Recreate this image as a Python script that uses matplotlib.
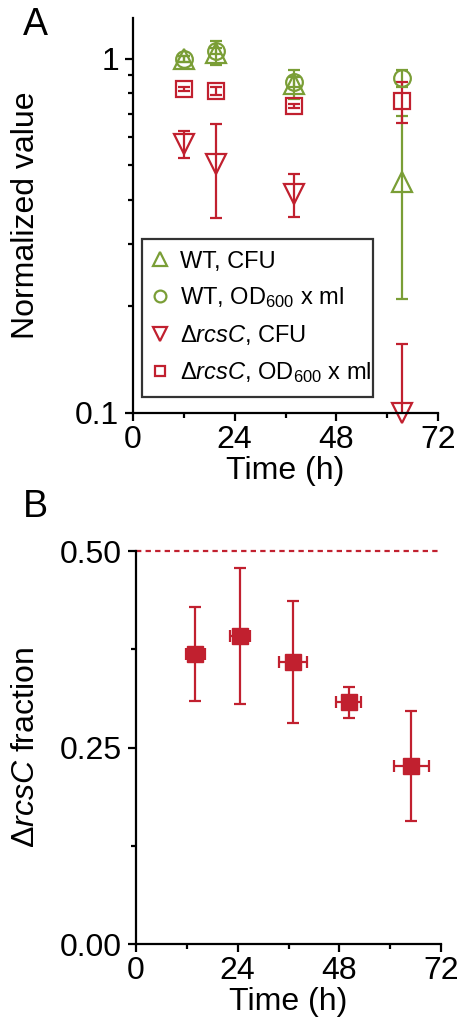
import matplotlib
matplotlib.use("Agg")
import matplotlib.pyplot as plt
from matplotlib.ticker import FixedLocator, NullFormatter, FixedFormatter
from matplotlib.lines import Line2D

plt.rcParams['font.family'] = ['Liberation Sans', 'DejaVu Sans']
plt.rcParams['mathtext.fontset'] = 'custom'
plt.rcParams['mathtext.rm'] = 'Liberation Sans'
plt.rcParams['mathtext.it'] = 'Liberation Sans:italic'
plt.rcParams['mathtext.sf'] = 'Liberation Sans'

GREEN = '#7a9e36'
RED = '#c1202f'

# ---- Panel A data ----
time_A = [12, 19.5, 38, 63.5]
wt_cfu = [1.0, 1.04, 0.85, 0.45]
wt_cfu_err = [0.02, 0.08, 0.08, 0.24]
wt_od = [1.0, 1.05, 0.86, 0.88]
wt_od_err = [0.02, 0.02, 0.03, 0.05]
rcs_cfu = [0.575, 0.505, 0.415, 0.10]
rcs_cfu_err = [0.05, 0.15, 0.057, 0.057]
rcs_od = [0.82, 0.81, 0.735, 0.76]
rcs_od_err = [0.01, 0.02, 0.01, 0.10]
labels_A = ['WT, CFU', 'WT, OD$_{600}$ x ml',
            r'$\Delta\mathit{rcsC}$, CFU', r'$\Delta\mathit{rcsC}$, OD$_{600}$ x ml']

# ---- Panel B data ----
time_B = [14, 24.5, 37, 50.2, 65]
time_B_err = [2.3, 2.3, 3.3, 2.9, 4.1]
frac_B = [0.369, 0.392, 0.359, 0.3075, 0.2265]
frac_B_err = [0.06, 0.086, 0.078, 0.02, 0.07]

xticks = [0, 24, 48, 72]
xminor = [12, 36, 60]

FS = 23
LW = 1.6

fig = plt.figure(figsize=(4.65, 10.22), dpi=100)
axA = fig.add_axes([0.286, 0.596, 0.656, 0.386])
axB = fig.add_axes([0.2925, 0.0763, 0.656, 0.3845])

def style(ax):
    for s in ['top', 'right']:
        ax.spines[s].set_visible(False)
    for s in ['left', 'bottom']:
        ax.spines[s].set_linewidth(LW)
    ax.tick_params(which='major', direction='out', length=6, width=LW,
                   labelsize=FS)
    ax.tick_params(axis='x', which='major', pad=2.5)
    ax.tick_params(axis='y', which='major', pad=4)
    ax.tick_params(which='minor', direction='out', length=3.8, width=LW)
    ax.set_xlim(0, 72)
    ax.set_xticks(xticks)
    ax.xaxis.set_minor_locator(FixedLocator(xminor))
    ax.set_xlabel('Time (h)', fontsize=FS, labelpad=1)

def eb(ax, x, y, yerr, marker, ms, color):
    dl, caps, bars = ax.errorbar(x, y, yerr=yerr, marker=marker, markersize=ms,
                                 color=color, elinewidth=LW, capsize=4.5,
                                 capthick=LW, linestyle='none',
                                 markeredgewidth=LW, markerfacecolor='none')
    dl.set_clip_on(False)

axA.set_yscale('log')
eb(axA, time_A, wt_cfu, wt_cfu_err, '^', 14, GREEN)
eb(axA, time_A, wt_od, wt_od_err, 'o', 12, GREEN)
eb(axA, time_A, rcs_cfu, rcs_cfu_err, 'v', 14, RED)
eb(axA, time_A, rcs_od, rcs_od_err, 's', 11, RED)
axA.set_ylim(0.1, 1.3)
style(axA)
axA.yaxis.set_major_locator(FixedLocator([0.1, 1]))
axA.yaxis.set_major_formatter(FixedFormatter(['0.1', '1']))
axA.yaxis.set_minor_locator(FixedLocator([0.2, 0.3, 0.4, 0.5, 0.6, 0.7, 0.8, 0.9]))
axA.yaxis.set_minor_formatter(NullFormatter())
axA.set_ylabel('Normalized value', fontsize=FS)
axA.yaxis.set_label_coords(-0.30, 0.5)

handles = [
    Line2D([], [], marker='^', markersize=10, color=GREEN, linestyle='none',
           markerfacecolor='none', markeredgewidth=LW),
    Line2D([], [], marker='o', markersize=8.5, color=GREEN, linestyle='none',
           markerfacecolor='none', markeredgewidth=LW),
    Line2D([], [], marker='v', markersize=10, color=RED, linestyle='none',
           markerfacecolor='none', markeredgewidth=LW),
    Line2D([], [], marker='s', markersize=7.5, color=RED, linestyle='none',
           markerfacecolor='none', markeredgewidth=LW),
]
leg = axA.legend(handles=handles, labels=labels_A, loc='lower left',
                 bbox_to_anchor=(0.029, 0.040, 0.757, 0.385), mode='expand',
                 fontsize=17, frameon=True, fancybox=False, borderpad=0.5,
                 handlelength=0.5, handletextpad=0.6, labelspacing=0.55,
                 borderaxespad=0)
leg.get_frame().set_edgecolor('black')
leg.get_frame().set_linewidth(LW)

# ---- Panel B ----
axB.axhline(0.5, color=RED, linestyle=(0, (2.4, 1.9)), linewidth=LW,
            clip_on=False)
dl, caps, bars = axB.errorbar(time_B, frac_B, xerr=time_B_err, yerr=frac_B_err,
                              marker='s', markersize=11.5, color=RED,
                              elinewidth=LW, capsize=4, capthick=LW,
                              linestyle='none')
dl.set_clip_on(False)
axB.set_ylim(0, 0.5)
style(axB)
axB.set_yticks([0, 0.25, 0.5])
axB.set_yticklabels(['0.00', '0.25', '0.50'])
axB.yaxis.set_minor_locator(FixedLocator([0.125, 0.375]))
axB.set_ylabel(r'$\Delta\mathit{rcsC}$ fraction', fontsize=FS)
axB.yaxis.set_label_coords(-0.31, 0.5)

fig.text(0.077, 0.9755, 'A', fontsize=27, ha='center', va='center')
fig.text(0.077, 0.504, 'B', fontsize=27, ha='center', va='center')

fig.savefig('out.png', dpi=100)
